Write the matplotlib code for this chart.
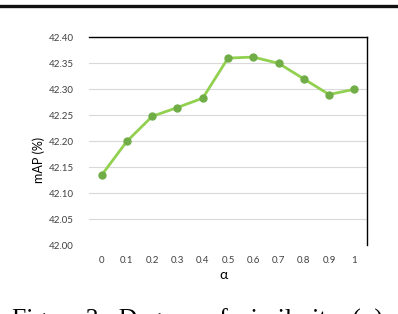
import matplotlib.pyplot as plt
from matplotlib.lines import Line2D

alpha_labels = ["0", "0.1", "0.2", "0.3", "0.4", "0.5", "0.6", "0.7", "0.8", "0.9", "1"]
map_values = [42.135, 42.200, 42.248, 42.265, 42.283, 42.360, 42.362, 42.350, 42.320, 42.290, 42.300]
y_ticks = [42.00, 42.05, 42.10, 42.15, 42.20, 42.25, 42.30, 42.35, 42.40]

plt.rcParams['font.family'] = ['Lato', 'DejaVu Sans']

fig = plt.figure(figsize=(3.98, 3.14), dpi=100)
ax = fig.add_axes([89 / 398, 1 - 245.3 / 314, 278 / 398, 208 / 314])

x = list(range(len(alpha_labels)))
ax.plot(x, map_values, color="#92D050", lw=2, marker="o", ms=5,
        mfc="#70AD47", mec="#70AD47", zorder=3)

ax.set_xlim(-0.5, len(alpha_labels) - 0.5)
ax.set_ylim(42.00, 42.40)
ax.set_xticks(x)
ax.set_xticklabels(alpha_labels)
ax.set_yticks(y_ticks)
ax.set_yticklabels([f"{v:.2f}" for v in y_ticks])
ax.tick_params(axis="both", length=0, labelsize=7, colors="#404040")
ax.tick_params(axis="x", pad=8)
ax.tick_params(axis="y", pad=11)

ax.yaxis.grid(True, color="#d9d9d9", lw=0.8)
ax.get_ygridlines()[0].set_visible(False)
ax.set_axisbelow(True)

for side in ["left", "bottom"]:
    ax.spines[side].set_visible(False)
for side in ["top", "right"]:
    ax.spines[side].set_color("black")
    ax.spines[side].set_linewidth(1)

fig.text(39 / 398, 1 - 160 / 314, "mAP (%)", rotation=90, ha="center", va="center",
         fontsize=9, color="black")
fig.text(224 / 398, 1 - 275 / 314, "α", ha="center", va="center", fontsize=10)

# thick rule at the top of the page crop
fig.add_artist(Line2D([0, 1], [1 - 5.5 / 314, 1 - 5.5 / 314], color="#111111", lw=2.4))

# caption, cut off by the crop like in the source page
fig.text(12 / 398, 1 - 309 / 314, "Figure 3:  Degree  of  similarity  (α)", ha="left", va="top",
         fontsize=18.5, family=["Liberation Serif", "DejaVu Serif"])

fig.savefig("out.png", dpi=100)
